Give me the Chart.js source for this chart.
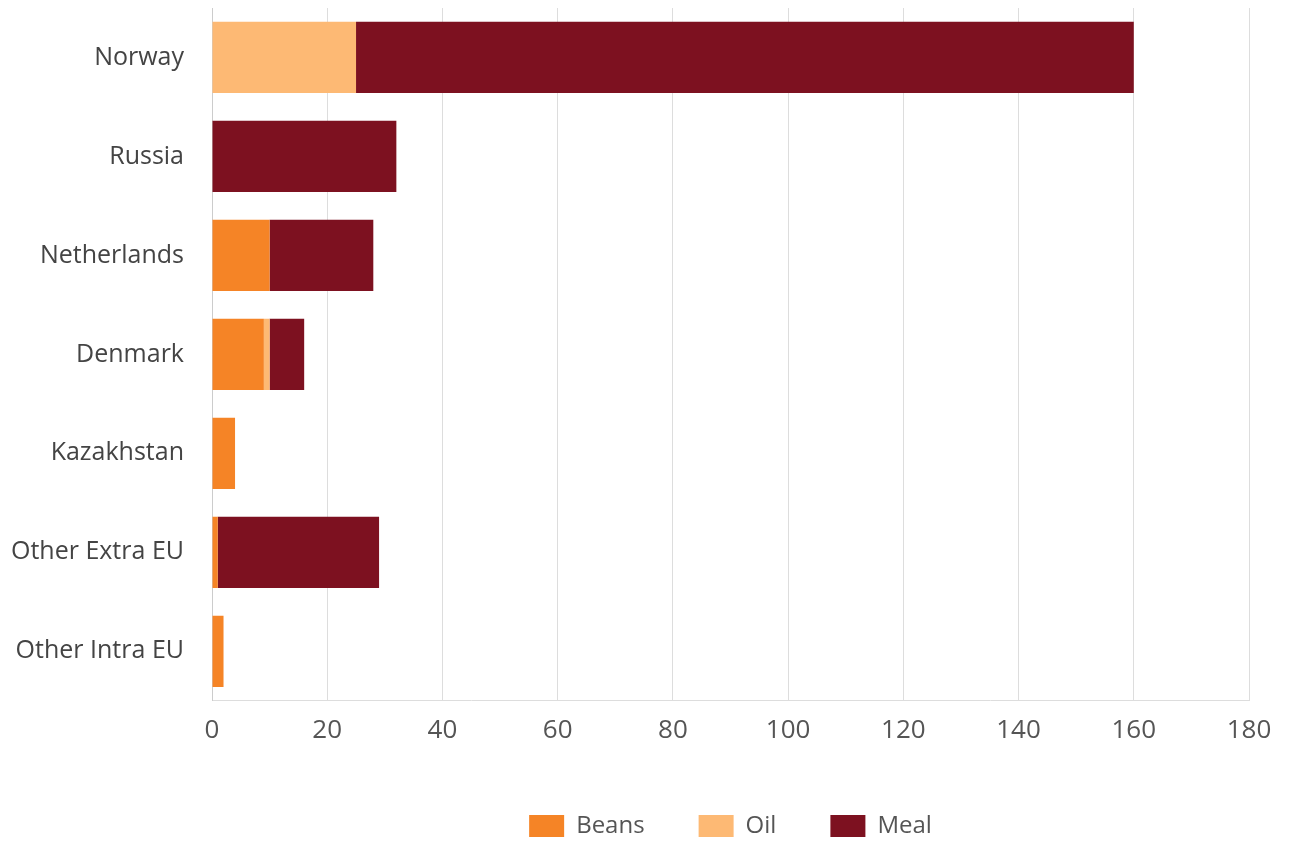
<!DOCTYPE html>
<html>
<head>
<meta charset="utf-8">
<script src="https://cdn.jsdelivr.net/npm/chart.js@4"></script>
<style>
  html, body { margin: 0; padding: 0; background: #fff; overflow: hidden; }
  #wrap { width: 1290px; height: 878px; margin-top: -35px; }
</style>
</head>
<body>
<div id="wrap"><canvas id="chart"></canvas></div>
<script>
// countries and volumes
const countries = ['Norway', 'Russia', 'Netherlands', 'Denmark', 'Kazakhstan', 'Other Extra EU', 'Other Intra EU'];
const beans = [0, 0, 10, 9, 4, 1, 2];
const oil = [25, 0, 0, 1, 0, 0, 0];
const meal = [135, 32, 18, 6, 0, 28, 0];

const ctx = document.getElementById('chart').getContext('2d');
const chart = new Chart(ctx, {
    type: 'bar',
    data: {
        labels: countries,
        datasets: [
            { label: 'Beans', data: beans, backgroundColor: '#f58426' },
            { label: 'Oil', data: oil, backgroundColor: '#fdb974' },
            { label: 'Meal', data: meal, backgroundColor: '#7d1120' }
        ]
    },
    options: {
        indexAxis: 'y',
        responsive: true,
        maintainAspectRatio: false,
        animation: false,
        datasets: { bar: { categoryPercentage: 0.72, barPercentage: 1 } },
        layout: { autoPadding: false, padding: { left: 0, right: 41, top: 8, bottom: -5 } },
        scales: {
            x: {
                stacked: true,
                min: 0,
                max: 180,
                ticks: { stepSize: 20, color: '#555', font: { family: 'Open Sans', size: 26 }, padding: 14 },
                grid: { color: '#dddddd', drawTicks: false },
                border: { color: '#dddddd' }
            },
            y: {
                stacked: true,
                afterFit: (scale) => { scale.width = 212; },
                ticks: { color: '#444', font: { family: 'Open Sans', size: 25 }, padding: 28 },
                grid: { display: false, drawTicks: false },
                border: { color: '#cccccc' }
            }
        },
        plugins: {
            legend: {
                position: 'bottom',
                fullSize: false,
                labels: {
                    color: '#555',
                    font: { family: 'Open Sans', size: 24, lineHeight: 1 },
                    boxWidth: 35,
                    boxHeight: 22,
                    padding: 54
                }
            },
            tooltip: { enabled: false }
        }
    }
});
</script>
</body>
</html>
